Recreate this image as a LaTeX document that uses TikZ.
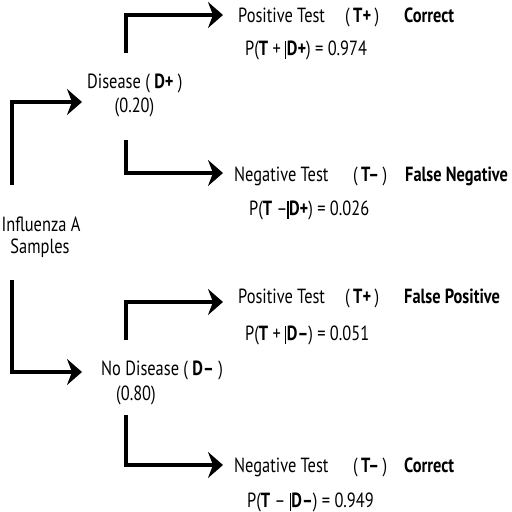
\documentclass[tikz,border=0pt]{standalone}
\usepackage{fontspec}
\setmainfont{PT Sans}[FakeStretch=0.8]
\usetikzlibrary{arrows.meta}
\newcommand{\givenbar}{\raisebox{-3.5pt}{\rule{1.1pt}{17.5pt}}\kern0.5pt}
\begin{document}
\begin{tikzpicture}[x=1pt,y=-1pt,
  lbl/.style={inner sep=0pt,anchor=base west,font=\fontsize{20.5}{24}\selectfont},
  ctr/.style={inner sep=0pt,anchor=base,font=\fontsize{20.5}{24}\selectfont},
  branch/.style={line width=3.2pt,-{Stealth[length=15pt,width=26pt,inset=5pt]}}]
\useasboundingbox (0,0) rectangle (512,512);
% root
\node[ctr] (inf) at (41,231) {Influenza A};
\node[ctr] (smp) at (40,253) {Samples};
% level 1
\node[lbl] (dis) at (87,88) {Disease ( \textbf{D+} )};
\node[ctr] (dp) at (134.5,112) {(0.20)};
\node[lbl] (ndis) at (101,375) {No Disease ( \textbf{D–} )};
\node[ctr] (ndp) at (136,400) {(0.80)};
% level 2
\node[lbl] (t1) at (238,22) {Positive Test};
\node[lbl] (s1) at (345,22) {(\,\textbf{T+}\,)};
\node[lbl] (o1) at (404,22) {\textbf{Correct}};
\node[lbl] (p1) at (245,55) {P(\textbf{T} + \givenbar\textbf{D+}) = 0.974};
\node[lbl] (t2) at (234,181) {Negative Test};
\node[lbl] (s2) at (353,181) {(\,\textbf{T–}\,)};
\node[lbl] (o2) at (405,181) {\textbf{False Negative}};
\node[lbl] (p2) at (249,215) {P(\textbf{T} –\givenbar\textbf{D+}) = 0.026};
\node[lbl] (t3) at (238,303) {Positive Test};
\node[lbl] (s3) at (345,303) {(\,\textbf{T+}\,)};
\node[lbl] (o3) at (404,303) {\textbf{False Positive}};
\node[lbl] (p3) at (245,340) {P(\textbf{T} + \givenbar\textbf{D–}) = 0.051};
\node[lbl] (t4) at (234,472) {Negative Test};
\node[lbl] (s4) at (353,472) {(\,\textbf{T–}\,)};
\node[lbl] (o4) at (404,472) {\textbf{Correct}};
\node[lbl] (p4) at (247,507) {P(\textbf{T} – \givenbar\textbf{D–}) = 0.949};
% connector ends
\coordinate (a1s) at (12,185); \coordinate (a1e) at (82,102);
\coordinate (a2s) at (12,280); \coordinate (a2e) at (82,372);
\coordinate (b1s) at (126,53); \coordinate (b1e) at (223,15);
\coordinate (b2s) at (126,140); \coordinate (b2e) at (223,173);
\coordinate (b3s) at (126,340); \coordinate (b3e) at (223,302);
\coordinate (b4s) at (126,415); \coordinate (b4e) at (223,465);
\draw[branch] (a1s) |- (a1e);
\draw[branch] (a2s) |- (a2e);
\draw[branch] (b1s) |- (b1e);
\draw[branch] (b2s) |- (b2e);
\draw[branch] (b3s) |- (b3e);
\draw[branch] (b4s) |- (b4e);
\end{tikzpicture}
\end{document}
